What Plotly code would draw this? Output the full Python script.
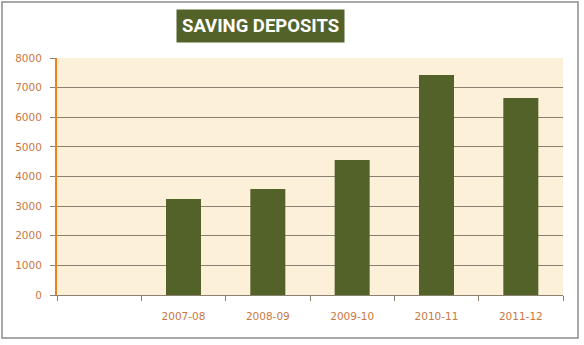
import plotly.graph_objects as go

categories = [" ", "2007-08", "2008-09", "2009-10", "2010-11", "2011-12"]
deposits = [None, 3240, 3580, 4560, 7430, 6650]
y_ticks = [0, 1000, 2000, 3000, 4000, 5000, 6000, 7000, 8000]

W, H = 584, 345
ml, mr, mt, mb = 57, 21, 58, 50
pw, ph = W - ml - mr, H - mt - mb

def px_x(x):
    return (x - ml) / pw

def px_y(y):
    return (H - mb - y) / ph

fig = go.Figure(go.Bar(
    x=categories, y=deposits,
    marker=dict(color="#536229", line=dict(width=0)),
    width=0.415,
))

label_font = dict(family="DejaVu Sans", size=10.5, color="#C9783F")

fig.update_layout(
    width=W, height=H,
    margin=dict(l=ml, r=mr, t=mt, b=mb),
    paper_bgcolor="white",
    plot_bgcolor="#FCF0D9",
    showlegend=False,
    xaxis=dict(
        type="category", categoryorder="array", categoryarray=categories,
        tickson="boundaries", ticks="outside", ticklen=5, tickcolor="#8A8070",
        showline=True, linecolor="#8A8070", linewidth=1,
        showgrid=False, tickfont=label_font, range=[-0.5, 5.5],
        ticklabelstandoff=11,
    ),
    yaxis=dict(
        range=[0, 8000], tickvals=y_ticks,
        ticks="outside", ticklen=5, tickcolor="#8A8070",
        showline=True, linecolor="#F0821E", linewidth=2,
        showgrid=True, gridcolor="#8A8070", gridwidth=1,
        zeroline=False, tickfont=label_font, ticklabelstandoff=6,
    ),
    shapes=[dict(
        type="rect", xref="paper", yref="paper",
        x0=px_x(2), x1=px_x(578), y0=px_y(338), y1=px_y(2),
        line=dict(color="#8C8C8C", width=1.5), fillcolor="rgba(0,0,0,0)", layer="below",
    )],
    annotations=[dict(
        text="<b>SAVING DEPOSITS</b>", xref="paper", yref="paper",
        x=px_x(260), y=px_y(26.5), xanchor="center", yanchor="middle",
        showarrow=False, bgcolor="#536229",
        font=dict(family="Roboto", size=18.5, color="white"),
        borderpad=5,
    )],
)

fig.write_html("out.html")
